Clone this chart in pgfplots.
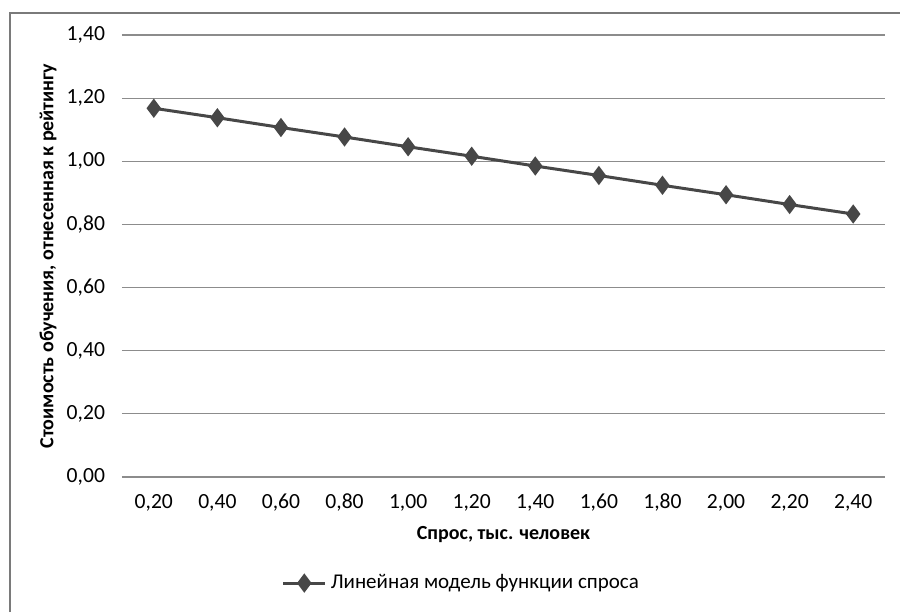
\documentclass[border=0pt]{standalone}
\usepackage{pgfplots}
\pgfplotsset{compat=1.18}
\usepackage{fontspec}
\setmainfont{Carlito}[Numbers=Lining]
\definecolor{lineg}{HTML}{474747}
\definecolor{gridg}{HTML}{8C8C8C}
\definecolor{frameg}{HTML}{7A7A7A}
\begin{document}
\begin{tikzpicture}
\path[use as bounding box] (0,0) rectangle (450pt,306pt);
\draw[frameg, line width=1pt] (5pt,0) -- (5pt,299.5pt) -- (450pt,299.5pt);
\begin{axis}[
  at={(61pt,67.5pt)}, anchor=south west,
  scale only axis, width=381.5pt, height=221pt,
  xmin=-0.5, xmax=11.5, ymin=0, ymax=1.4,
  xtick={0,...,11},
  xticklabels={{0,20},{0,40},{0,60},{0,80},{1,00},{1,20},{1,40},{1,60},{1,80},{2,00},{2,20},{2,40}},
  ytick={0,0.2,0.4,0.6,0.8,1.0,1.2,1.4},
  yticklabel style={/pgf/number format/fixed, /pgf/number format/fixed zerofill, /pgf/number format/precision=2, /pgf/number format/use comma, /pgf/number format/assume math mode=true, xshift=-5pt},
  xticklabel style={yshift=-5pt},
  tick style={draw=none},
  axis line style={draw=none},
  ymajorgrids, major grid style={gridg, line width=0.6pt},
  tick label style={font=\fontsize{10.8}{12}\selectfont},
  xlabel={\textbf{Спрос, тыс. человек}},
  ylabel={\textbf{Стоимость обучения, отнесенная к рейтингу}},
  label style={font=\fontsize{10}{12}\selectfont},
  every axis x label/.style={at={(rel axis cs:0.5,0)}, yshift=-29pt, anchor=center},
  every axis y label/.style={at={(rel axis cs:0,0.5)}, xshift=-37pt, rotate=90, anchor=center},
  legend style={at={(rel axis cs:0.446,-0.24)}, anchor=center, draw=none, fill=none, font=\fontsize{10.5}{12}\selectfont, inner xsep=0pt},
  legend image code/.code={\draw[#1, mark repeat=2, mark phase=2] plot coordinates {(0pt,0pt) (10.5pt,0pt) (21pt,0pt)};},
  legend cell align=left,
]
\addplot[lineg, line width=1.5pt, mark=diamond*, mark size=3.6pt, mark options={fill=lineg, draw=lineg}]
  coordinates {(0,1.168) (1,1.138) (2,1.107) (3,1.077) (4,1.046) (5,1.016) (6,0.985) (7,0.955) (8,0.924) (9,0.894) (10,0.863) (11,0.833)};
\addlegendentry{Линейная модель функции спроса}
\end{axis}
\end{tikzpicture}
\end{document}
